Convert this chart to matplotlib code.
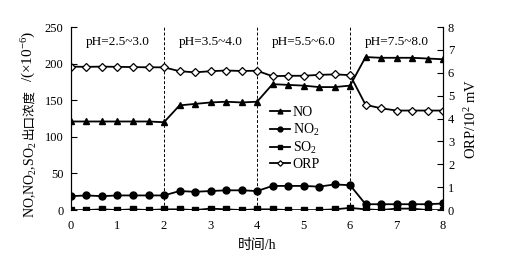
import matplotlib
matplotlib.use("Agg")
import matplotlib.pyplot as plt

plt.rcParams["font.family"] = ["Liberation Serif", "Noto Sans CJK SC"]
plt.rcParams["mathtext.fontset"] = "custom"
plt.rcParams["mathtext.rm"] = "Liberation Serif"
plt.rcParams["mathtext.it"] = "Liberation Serif:italic"
plt.rcParams["axes.unicode_minus"] = False

# 时间 (h), 每 20 min 一个点
t = [i / 3 for i in range(25)]
no = [121, 121, 121, 121, 121, 121, 120,
      143, 145, 147, 148, 147, 148,
      172, 171, 170, 168, 168, 170,
      209, 208, 208, 208, 207, 206]
no2 = [19, 20, 19, 20, 20, 20, 20,
       26, 25, 26, 27, 27, 26,
       33, 33, 33, 32, 35, 34,
       8, 8, 8, 8, 8, 9]
so2 = [0, 0, 1, 0, 1, 0, 1,
       1, 0, 2, 1, 0, 1,
       1, 0, 0, 0, 1, 3,
       1, 0, 2, 2, 0, 0]
orp = [6.27, 6.26, 6.27, 6.26, 6.25, 6.24, 6.24,
       6.07, 6.02, 6.07, 6.10, 6.08, 6.09,
       5.85, 5.87, 5.87, 5.91, 5.93, 5.90,
       4.60, 4.45, 4.35, 4.35, 4.35, 4.35]
ph_labels = ["pH=2.5~3.0", "pH=3.5~4.0", "pH=5.5~6.0", "pH=7.5~8.0"]
ph_pos = [1.0, 3.0, 5.0, 7.0]
bounds = [2, 4, 6]

fig = plt.figure(figsize=(5.07, 2.60), dpi=100)
ax = fig.add_axes([0.140, 0.192, 0.734, 0.704])
ax2 = ax.twinx()

l1, = ax.plot(t, no, "k-", marker="^", ms=5, lw=1.3, label="NO")
l2, = ax.plot(t, no2, "k-", marker="o", ms=5, lw=1.3, label="NO$_2$")
l3, = ax.plot(t, so2, "k-", marker="s", ms=4.5, lw=1.3, label="SO$_2$")
l4, = ax2.plot(t, orp, "k-", marker="D", ms=4, mfc="white", mew=0.9, lw=1.3, label="ORP")

for b in bounds:
    ax.plot([b, b], [0, 250], "k--", lw=0.7, dashes=(3, 2))
for p, s in zip(ph_pos, ph_labels):
    ax.text(p, 229, s, ha="center", va="center", fontsize=9.5)

ax.set_xlim(0, 8)
ax.set_ylim(0, 250)
ax2.set_ylim(0, 8)
ax.set_xticks(range(9))
ax.set_yticks(range(0, 251, 50))
ax2.set_yticks(range(9))
for a in (ax, ax2):
    a.spines["top"].set_visible(False)
    a.spines["bottom"].set_visible(False)
    a.tick_params(direction="in", labelsize=9, length=4, width=0.8)
ax.tick_params(axis="y", pad=5.5)
ax2.tick_params(axis="y", pad=3.5)
ax.tick_params(axis="x", length=0, pad=7)

ax.set_xlabel("时间/h", fontsize=10, labelpad=5)
ax2.set_ylabel("ORP/10$^2$ mV", fontsize=10.5, labelpad=6)

# 左轴标题分三段写, 中文与上下标才能同时显示
y1 = fig.text(31 / 507, 42 / 260, "NO,NO$_2$,SO$_2$", rotation=90,
              ha="center", va="bottom", fontsize=10)
y2 = ax.annotate("出口浓度", xy=(0.35, 1), xycoords=y1, xytext=(0, 2),
                 textcoords="offset points", rotation=90, ha="center",
                 va="bottom", fontsize=9, family="Noto Sans CJK SC",
                 annotation_clip=False)
y3 = ax.annotate("/(×10$^{-6}$)", xy=(0.5, 1), xycoords=y2, xytext=(0, 5),
                 textcoords="offset points", rotation=90, ha="center",
                 va="bottom", fontsize=11, annotation_clip=False)

leg = ax.legend(handles=[l1, l2, l3, l4], loc="upper left",
                bbox_to_anchor=(0.51, 0.62), frameon=False, fontsize=10,
                handlelength=1.4, handletextpad=0.2, labelspacing=0.15,
                borderpad=0.2, markerscale=0.7)

fig.savefig("out.png", dpi=100)
